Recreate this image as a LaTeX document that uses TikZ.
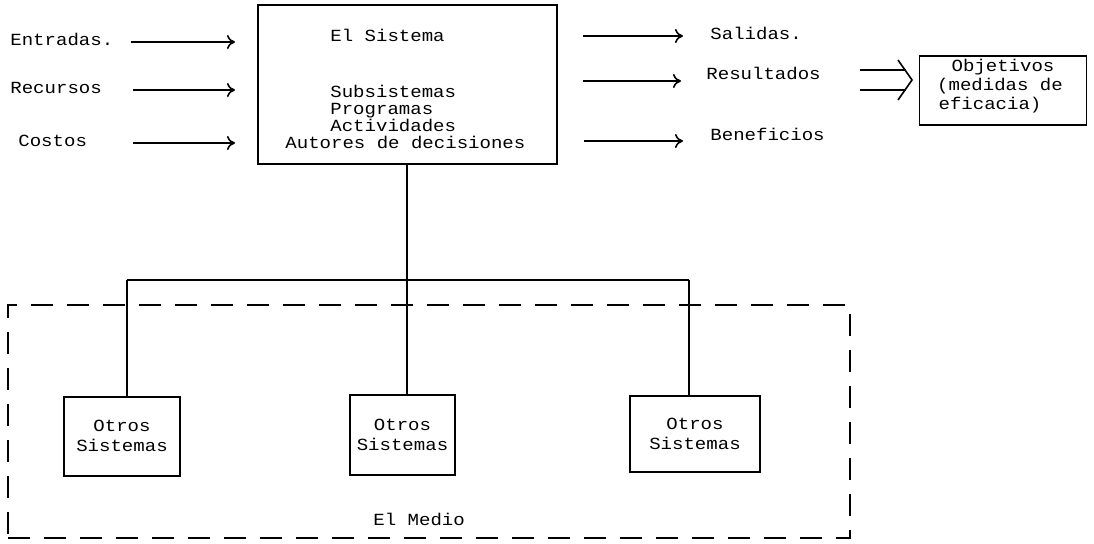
\documentclass[tikz,border=0pt]{standalone}
\usepackage{fontspec}
\setmainfont{Liberation Mono}[FakeStretch=1.12]
\usetikzlibrary{arrows.meta}
\begin{document}
\begin{tikzpicture}[x=0.5pt,y=-0.5pt,
  txt/.style={anchor=west,inner sep=0pt,text height=5.6pt,text depth=1.4pt,font=\fontsize{8.5pt}{10pt}\selectfont},
  box/.style={draw,line width=0.8pt,inner sep=0pt},
  conn/.style={line width=0.8pt},
  arr/.style={line width=0.8pt,-{To[length=4pt,width=7pt]}},
  medio/.style={draw,line width=0.8pt,dash pattern=on 11pt off 7pt}]
\useasboundingbox (0,0) rectangle (1094,544);
% main box
\node[box,minimum width=149.5pt,minimum height=79.5pt] (sys) at (407.5,84.5) {};
\node[txt] (t1) at (330,37) {El Sistema};
\node[txt] (t2) at (330,93) {Subsistemas};
\node[txt] (t3) at (330,110) {Programas};
\node[txt] (t4) at (330,127) {Actividades};
\node[txt] (t5) at (285,144) {Autores de decisiones};
% inputs
\node[txt] (ent) at (10,41) {Entradas.};
\node[txt] (rec) at (10,89) {Recursos};
\node[txt] (cos) at (18,142) {Costos};
\coordinate (e1) at (131,42); \coordinate (e2) at (235,42);
\coordinate (r1) at (133,90); \coordinate (r2) at (235,90);
\coordinate (c1) at (133,143); \coordinate (c2) at (235,143);
\draw[arr] (e1) -- (e2);
\draw[arr] (r1) -- (r2);
\draw[arr] (c1) -- (c2);
% outputs
\node[txt] (sal) at (710,35) {Salidas.};
\node[txt] (res) at (706,75) {Resultados};
\node[txt] (ben) at (710,136) {Beneficios};
\coordinate (s1) at (583,36); \coordinate (s2) at (683,36);
\coordinate (q1) at (583,81); \coordinate (q2) at (681,81);
\coordinate (b1) at (584,141); \coordinate (b2) at (683,141);
\draw[arr] (s1) -- (s2);
\draw[arr] (q1) -- (q2);
\draw[arr] (b1) -- (b2);
% objetivos
\node[box,minimum width=83.5pt,minimum height=34.5pt] (obj) at (1003,90.5) {};
\node[txt,anchor=center] (o1) at (1003,67) {Objetivos};
\node[txt,anchor=center] (o2) at (1000,86) {(medidas de};
\node[txt,anchor=center] (o3) at (990,105) {eficacia)};
% double arrow
\coordinate (d1) at (860,70); \coordinate (d1e) at (906,70);
\coordinate (d2) at (860,90); \coordinate (d2e) at (906,90);
\coordinate (dt1) at (898,60); \coordinate (dtip) at (912,80); \coordinate (dt2) at (898,100);
\draw[conn] (d1) -- (d1e);
\draw[conn] (d2) -- (d2e);
\draw[conn] (dt1) -- (dtip) -- (dt2);
% environment
\node[medio,minimum width=421pt,minimum height=116.5pt,inner sep=0pt] (medio) at (429,421.5) {};
\node[txt] (medlbl) at (373,521) {El Medio};
% other systems
\node[box,minimum width=58pt,minimum height=39.5pt] (os1) at (122,436.5) {};
\node[txt,anchor=center] at (122,427) {Otros};
\node[txt,anchor=center] at (122,447) {Sistemas};
\node[box,minimum width=52.5pt,minimum height=40pt] (os2) at (402.5,435) {};
\node[txt,anchor=center] at (402.5,426) {Otros};
\node[txt,anchor=center] at (402.5,446) {Sistemas};
\node[box,minimum width=65pt,minimum height=38pt] (os3) at (695,434) {};
\node[txt,anchor=center] at (695,425) {Otros};
\node[txt,anchor=center] at (695,445) {Sistemas};
% tree
\coordinate (j) at (407,280);
\draw[conn] (sys.south -| j) -- (j);
\draw[conn] (127,280) -- (689,280);
\draw[conn] (os1.north -| 127,0) -- (127,280);
\draw[conn] (os2.north -| j) -- (j);
\draw[conn] (os3.north -| 689,0) -- (689,280);
\end{tikzpicture}
\end{document}
